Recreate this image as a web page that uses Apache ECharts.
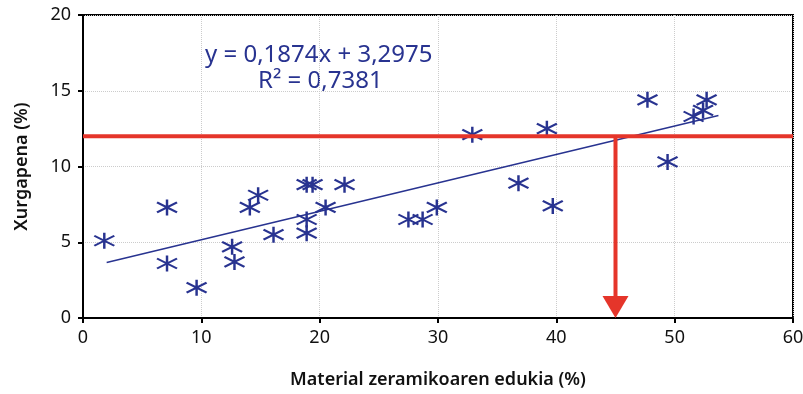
<!DOCTYPE html>
<html>
<head>
<meta charset="utf-8">
<script src="https://cdn.jsdelivr.net/npm/echarts@6/dist/echarts.min.js"></script>
<style>
html,body{margin:0;padding:0;background:#fff;}
#main{width:803px;height:394px;}
</style>
</head>
<body>
<div id="main"></div>
<script>
// neurketak (x = material zeramikoa %, y = xurgapena %)
var pointsX = [1.8, 7.1, 7.1, 9.6, 12.6, 12.8, 14.1, 14.8, 16.1, 18.9, 19.4, 18.9, 18.9, 20.5, 22.1, 27.5, 28.7, 29.9, 32.9, 36.8, 39.2, 39.7, 47.7, 49.4, 51.6, 52.4, 52.7];
var pointsY = [5.1, 7.3, 3.6, 2.0, 4.7, 3.7, 7.3, 8.1, 5.5, 8.8, 8.8, 6.5, 5.6, 7.3, 8.8, 6.5, 6.5, 7.3, 12.1, 8.9, 12.5, 7.4, 14.4, 10.3, 13.3, 13.7, 14.4];
// joera lerroa (muturrak)
var trendX = [2, 53.7];
var trendY = [3.67, 13.36];
// lerro gorriak
var refY = 12;
var refX = 45;
var xTicks = [0, 10, 20, 30, 40, 50, 60];
var yTicks = [0, 5, 10, 15, 20];
var eqText = 'y = 0,1874x + 3,2975';
var r2Text = 'R² = 0,7381';

var font = '"Noto Sans",sans-serif';
var navy = '#283390';
var red = '#e5352a';

var chart = echarts.init(document.getElementById('main'));
var scatterData = pointsX.map(function(x, i){ return [x, pointsY[i]]; });
var trendData = trendX.map(function(x, i){ return [x, trendY[i]]; });

var option = {
    animation: false,
    grid: {left: 83, right: 10, top: 15, bottom: 76, show: true, borderColor: '#000', borderWidth: 2, outerBoundsMode: 'none'},
    xAxis: {
        type: 'value', min: xTicks[0], max: xTicks[xTicks.length-1], interval: 10,
        name: 'Material zeramikoaren edukia (%)', nameLocation: 'middle', nameGap: 53,
        nameTextStyle: {fontFamily: font, fontSize: 18, fontWeight: 600, color: '#111'},
        axisLine: {lineStyle: {color: '#000', width: 2}},
        axisTick: {show: true, length: 5, lineStyle: {color: '#000', width: 2}},
        axisLabel: {fontFamily: font, fontSize: 18, color: '#111', margin: 11},
        splitLine: {show: true, lineStyle: {color: '#ccc', type: 'dotted', width: 1}}
    },
    yAxis: {
        type: 'value', min: yTicks[0], max: yTicks[yTicks.length-1], interval: 5,
        name: 'Xurgapena (%)', nameLocation: 'middle', nameGap: 52, nameRotate: 90,
        nameTextStyle: {fontFamily: font, fontSize: 18, fontWeight: 600, color: '#111'},
        axisLine: {lineStyle: {color: '#000', width: 2}},
        axisTick: {show: true, length: 5, lineStyle: {color: '#000', width: 2}},
        axisLabel: {fontFamily: font, fontSize: 18, color: '#111', margin: 12},
        splitLine: {show: true, lineStyle: {color: '#ccc', type: 'dotted', width: 1}}
    },
    graphic: [
        {type: 'text', left: 205, top: 43, style: {text: eqText, font: '24px ' + font, fill: navy}},
        {type: 'text', left: 258, top: 69, style: {text: r2Text, font: '24px ' + font, fill: navy}}
    ],
    series: [
        {
            type: 'line', data: trendData, symbol: 'none',
            lineStyle: {color: navy, width: 1.5}, z: 2
        },
        {
            type: 'scatter', data: scatterData,
            symbol: 'path://M10 0L10 16M0 3L20 13M0 13L20 3',
            symbolSize: [20, 16],
            itemStyle: {color: 'none', borderColor: navy, borderWidth: 2.2, opacity: 1},
            z: 3
        },
        {
            type: 'line', data: [[xTicks[0], refY], [xTicks[xTicks.length-1], refY]], symbol: 'none',
            lineStyle: {color: red, width: 4}, z: 4
        },
        {
            type: 'line', data: [[refX, refY], [refX, 1.2]], symbol: 'none',
            lineStyle: {color: red, width: 4}, z: 4
        },
        {
            type: 'scatter', data: [[refX, 0]], symbol: 'triangle', symbolRotate: 180,
            symbolSize: [26, 22], symbolOffset: [0, -11],
            itemStyle: {color: red, opacity: 1}, z: 5
        }
    ]
};
chart.setOption(option);
</script>
</body>
</html>
